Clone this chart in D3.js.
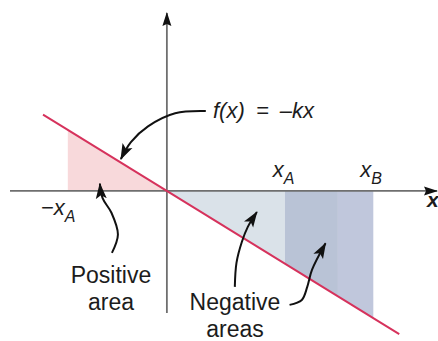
<!DOCTYPE html>
<html><head><meta charset="utf-8">
<script src="https://cdn.jsdelivr.net/npm/d3@7"></script>
<style>
html,body{margin:0;padding:0;background:#fff;}
svg{display:block;}
text{font-family:"Liberation Sans",Arial,sans-serif;fill:#1c1c1c;}
</style></head>
<body>
<svg id="c" width="438" height="341"></svg>
<script>
// ---- data ----
const k = 1;                       // f(x) = -k x
const lineXs = [-1.05, 1.97];      // extent of the drawn line
const regionStarts = [-0.84, 0, 1, 1.45];
const regionEnds   = [0, 1, 1.45, 1.75];
const tickValues   = [-0.84, 1, 1.75];     // -xA, xA, xB
const tickMain     = ["\u2212x", "x", "x"];
const tickSub      = ["A", "A", "B"];
const fLabel       = "f(x) = \u2013kx";
const posLabel     = ["Positive", "area"];
const negLabel     = ["Negative", "areas"];
// annotation arrow paths, data coordinates (tail -> tip)
const arrowF   = [[0.33,1.10],[0.07,1.07],[-0.16,0.89],[-0.305,0.674],[-0.39,0.44]];
const arrowPos = [[-0.466,-0.853],[-0.415,-0.60],[-0.47,-0.30],[-0.545,-0.10],[-0.568,0.10]];
const arrowN1  = [[0.576,-1.32],[0.59,-0.99],[0.636,-0.70],[0.686,-0.495],[0.763,-0.29]];
const arrowN2  = [[1.04,-1.568],[1.144,-1.50],[1.19,-1.32],[1.23,-1.087],[1.345,-0.72]];

// ---- styles ----
const regionColors = ["#f8d9db", "#dae2e9", "#b9c3d6", "#c0c7dc"];
const lineColor = "#d6325c";
const axisColor = "#6f6f6f";

const svg = d3.select("#c");
const x = d3.scaleLinear().domain([-1.33, 2.29]).range([10, 437]);
const y = d3.scaleLinear().domain([-1.68, 2.45]).range([313, 13]);
const f = v => -k * v;

const defs = svg.append("defs");
defs.append("marker").attr("id","axhead").attr("viewBox","0 -6 14 12")
  .attr("markerUnits","userSpaceOnUse").attr("markerWidth",14).attr("markerHeight",12)
  .attr("refX",13).attr("refY",0).attr("orient","auto")
  .append("path").attr("d","M0,-4.5L14,0L0,4.5L2,0Z").attr("fill","#111");
defs.append("marker").attr("id","arhead").attr("viewBox","0 -6 16 12")
  .attr("markerUnits","userSpaceOnUse").attr("markerWidth",16).attr("markerHeight",12)
  .attr("refX",15).attr("refY",0).attr("orient","auto")
  .append("path").attr("d","M0,-5.5L16,0L0,5.5L3.5,0Z").attr("fill","#111");

// shaded regions
const area = d3.area().x(d => x(d)).y0(y(0)).y1(d => y(f(d)));
regionStarts.forEach((s, i) => {
  svg.append("path").datum([s, regionEnds[i]])
    .attr("d", area).attr("fill", regionColors[i]);
});

// axes
const xAxis = d3.axisBottom(x).tickValues([]).tickSizeOuter(0);
const gx = svg.append("g").attr("transform", `translate(0,${y(0)})`).call(xAxis);
gx.select(".domain").attr("stroke", axisColor).attr("stroke-width", 1.8)
  .attr("d", `M${x.range()[0]},0H${x.range()[1]}`).attr("marker-end","url(#axhead)");
const yAxis = d3.axisLeft(y).tickValues([]).tickSizeOuter(0);
const gy = svg.append("g").attr("transform", `translate(${x(0)},0)`).call(yAxis);
gy.select(".domain").attr("stroke", axisColor).attr("stroke-width", 1.8)
  .attr("d", `M0,${y.range()[0]}V${y.range()[1]}`).attr("marker-end","url(#axhead)");

// line f(x) = -kx
svg.append("path").datum(lineXs)
  .attr("d", d3.line().x(d => x(d)).y(d => y(f(d))))
  .attr("stroke", lineColor).attr("stroke-width", 2).attr("fill", "none");

// arrows
const arrowLine = d3.line().x(d => x(d[0])).y(d => y(d[1])).curve(d3.curveCatmullRom.alpha(0.5));
[arrowF, arrowPos, arrowN1, arrowN2].forEach(pts => {
  svg.append("path").attr("d", arrowLine(pts)).attr("fill","none")
    .attr("stroke","#111").attr("stroke-width",2).attr("marker-end","url(#arhead)");
});

// tick labels
const tickDx = [-27, -12, -13];
tickValues.forEach((v, i) => {
  const t = svg.append("text")
    .attr("x", x(v) + tickDx[i]).attr("y", i === 0 ? 215 : 177)
    .attr("font-size", 22).attr("font-style", "italic");
  t.append("tspan").text(tickMain[i]);
  t.append("tspan").attr("font-size", 16).attr("dy", 7).text(tickSub[i]);
});

// axis label
svg.append("text").attr("x", 427).attr("y", 207).attr("font-size", 21)
  .attr("font-style","italic").attr("font-weight","bold").text("x");

// f(x) label
svg.append("text").attr("x", 213).attr("y", 118).attr("font-size", 22)
  .attr("font-style","italic").attr("word-spacing", 5).attr("xml:space","preserve").text(fLabel);

// area labels
[[posLabel, 111, 283], [negLabel, 235, 310]].forEach(([lines, cx, by]) => {
  lines.forEach((s, j) => {
    svg.append("text").attr("x", cx).attr("y", by + j * 27)
      .attr("text-anchor","middle").attr("font-size", 23).text(s);
  });
});
</script>
</body></html>
